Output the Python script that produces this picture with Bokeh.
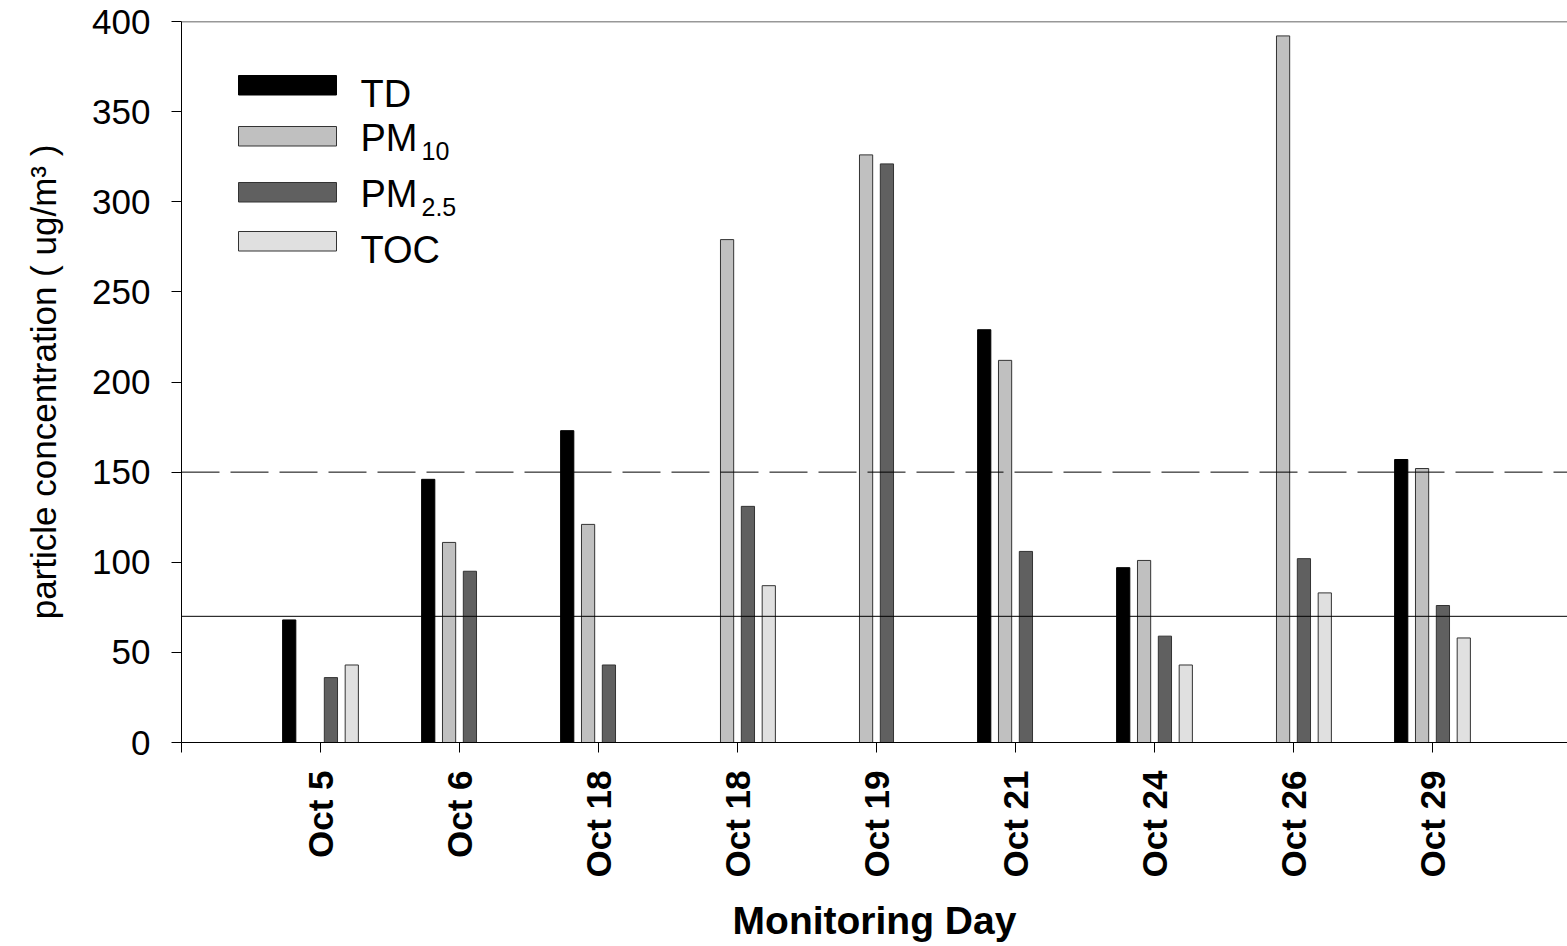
import math
from bokeh.plotting import figure
from bokeh.models import (Span, Label, BoxAnnotation, FixedTicker, ColumnDataSource,
                          Range1d)
from bokeh.transform import dodge
from bokeh.embed import file_html
from bokeh.resources import INLINE

# ---------------- data ----------------
days = ["Oct 5", "Oct 6", "Oct 18", "Oct 18", "Oct 19", "Oct 21", "Oct 24", "Oct 26", "Oct 29"]
td   = [68, 146, 173, None, None, 229, 97, None, 157]
pm10 = [None, 111, 121, 279, 326, 212, 101, 392, 152]
pm25 = [36, 95, 43, 131, 321, 106, 59, 102, 76]
toc  = [43, None, None, 87, None, None, 43, 83, 58]
series_values = [td, pm10, pm25, toc]
series_colors = ["#000000", "#c0c0c0", "#606060", "#e0e0e0"]
y_ticks = [0, 50, 100, 150, 200, 250, 300, 350, 400]
dashed_limit = 150
solid_limit = 70
Y_MAX = 400

FONT = "Liberation Sans"

# ---------------- layout ----------------
W, H = 1567, 946
LEFT, TOP, BOTTOM = 181, 21, 204
unit_px = 139.0
frame_w = W - LEFT
x_max = frame_w / unit_px

p = figure(width=W, height=H, output_backend="svg", toolbar_location=None,
           x_range=Range1d(0, x_max), y_range=Range1d(0, Y_MAX),
           min_border_left=LEFT, min_border_right=0, min_border_top=TOP,
           min_border_bottom=BOTTOM)
p.outline_line_color = None
p.xgrid.visible = False
p.ygrid.visible = False
p.background_fill_color = "white"
p.border_fill_color = "white"

offsets = [-0.225, -0.075, 0.075, 0.225]
bar_w = 0.095
for vals, col, off in zip(series_values, series_colors, offsets):
    xs = [i + 1 for i, v in enumerate(vals) if v is not None]
    ys = [v for v in vals if v is not None]
    src = ColumnDataSource(dict(x=xs, top=ys))
    p.vbar(x=dodge("x", off, range=p.x_range), top="top", bottom=0, width=bar_w,
           source=src, fill_color=col,
           line_color="#000000" if col == "#000000" else "#333333", line_width=1)

# reference lines and top border
p.add_layout(Span(location=dashed_limit, dimension="width", line_color="black",
                  line_width=1, line_dash="38 11"))
p.add_layout(Span(location=solid_limit, dimension="width", line_color="black", line_width=1))
p.add_layout(Span(location=Y_MAX, dimension="width", line_color="#333333", line_width=1.5))

# axes
xa = p.xaxis[0]
xa.ticker = FixedTicker(ticks=list(range(0, len(days) + 1)))
xa.major_label_overrides = {i + 1: d for i, d in enumerate(days)}
xa.major_label_overrides[0] = ""
xa.major_label_orientation = math.pi / 2
xa.major_label_text_font = FONT
xa.major_label_text_font_style = "bold"
xa.major_label_text_font_size = "35px"
xa.major_label_text_color = "black"
xa.major_label_standoff = 18
xa.major_tick_out = 10
xa.major_tick_in = 0
xa.minor_tick_line_color = None
xa.axis_line_color = "black"
xa.major_tick_line_color = "black"
xa.axis_label = "Monitoring Day"
xa.axis_label_text_font = FONT
xa.axis_label_text_font_style = "bold"
xa.axis_label_text_font_size = "39px"
xa.axis_label_text_color = "black"
xa.axis_label_standoff = 19

ya = p.yaxis[0]
ya.ticker = FixedTicker(ticks=y_ticks)
ya.major_label_text_font = FONT
ya.major_label_text_font_size = "35px"
ya.major_label_text_color = "black"
ya.major_label_standoff = 21
ya.major_tick_out = 10
ya.major_tick_in = 0
ya.minor_tick_line_color = None
ya.axis_line_color = "black"
ya.major_tick_line_color = "black"
ya.axis_label = "particle concentration ( ug/m\u00b3 )"
ya.axis_label_text_font = FONT
ya.axis_label_text_font_style = "normal"
ya.axis_label_text_font_size = "35px"
ya.axis_label_text_color = "black"
ya.axis_label_standoff = 26

# helper: canvas px -> screen units relative to frame
FB = H - BOTTOM  # frame bottom in canvas px
def sx(cx):
    return cx - LEFT
def sy(cy):
    return FB - cy

# legend (manual, for subscripts)
legend_rows = [
    ("TD", "", 75, 93),
    ("PM", "10", 126, 137),
    ("PM", "2.5", 182, 193),
    ("TOC", "", 231, 249),
]
for (main, sub, box_top, base), col in zip(legend_rows, series_colors):
    p.add_layout(BoxAnnotation(left=sx(238), right=sx(336), top=sy(box_top),
                               bottom=sy(box_top + 19.5),
                               left_units="screen", right_units="screen",
                               top_units="screen", bottom_units="screen",
                               fill_color=col, fill_alpha=1.0,
                               line_color="black" if col == "#000000" else "#333333",
                               line_width=1, line_alpha=1.0))
    p.add_layout(Label(x=sx(360), y=sy(base), x_units="screen", y_units="screen",
                       text=main, text_font=FONT, text_font_size="38px",
                       text_color="black", text_align="left",
                       text_baseline="alphabetic"))
    if sub:
        p.add_layout(Label(x=sx(421), y=sy(base + 13.5), x_units="screen",
                           y_units="screen", text=sub, text_font=FONT,
                           text_font_size="25px", text_color="black",
                           text_align="left", text_baseline="alphabetic"))

open("out.html", "w").write(file_html(p, INLINE))
